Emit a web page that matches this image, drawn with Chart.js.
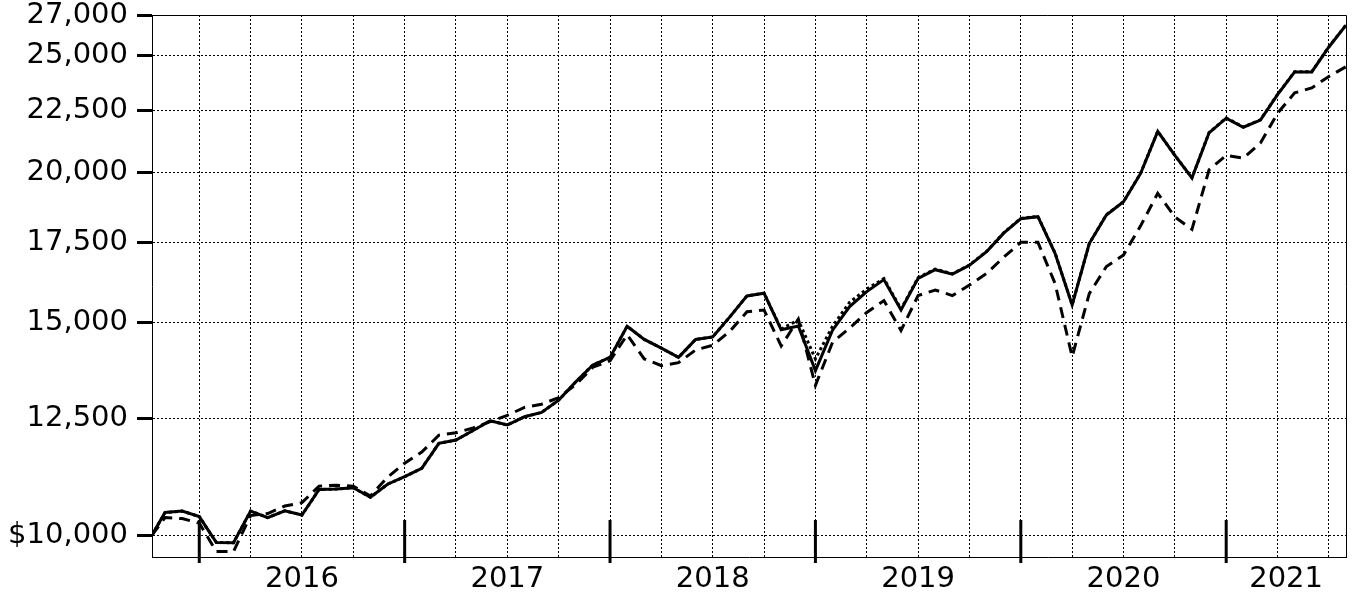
<!DOCTYPE html>
<html>
<head>
<meta charset="utf-8">
<script src="https://cdn.jsdelivr.net/npm/chart.js@4.4.1/dist/chart.umd.min.js"></script>
<style>
  html, body { margin: 0; padding: 0; background: #fff; }
  #wrap { width: 1363px; height: 610px; }
</style>
</head>
<body>
<div id="wrap"><canvas id="chart"></canvas></div>
<script>
// first entry is the inception date, the rest are month ends
const dates = ['2015-10-09',
  '2015-10', '2015-11', '2015-12',
  '2016-01', '2016-02', '2016-03', '2016-04', '2016-05', '2016-06', '2016-07', '2016-08', '2016-09', '2016-10', '2016-11', '2016-12',
  '2017-01', '2017-02', '2017-03', '2017-04', '2017-05', '2017-06', '2017-07', '2017-08', '2017-09', '2017-10', '2017-11', '2017-12',
  '2018-01', '2018-02', '2018-03', '2018-04', '2018-05', '2018-06', '2018-07', '2018-08', '2018-09', '2018-10', '2018-11', '2018-12',
  '2019-01', '2019-02', '2019-03', '2019-04', '2019-05', '2019-06', '2019-07', '2019-08', '2019-09', '2019-10', '2019-11', '2019-12',
  '2020-01', '2020-02', '2020-03', '2020-04', '2020-05', '2020-06', '2020-07', '2020-08', '2020-09', '2020-10', '2020-11', '2020-12',
  '2021-01', '2021-02', '2021-03', '2021-04', '2021-05', '2021-06', '2021-07'];

const solidLine = [10000,
  10440, 10470, 10360,
  9860, 9855, 10470, 10340, 10475, 10390, 10910, 10920, 10945, 10750, 11020, 11180,
  11360, 11915, 11990, 12210, 12440, 12340, 12535, 12640, 12940, 13400, 13840, 14040,
  14900, 14530, 14290, 14040, 14530, 14600, 15170, 15790, 15870, 14800, 14910, 13690,
  14790, 15470, 15920, 16290, 15370, 16330, 16600, 16460, 16740, 17180, 17800, 18300,
  18370, 17130, 15520, 17450, 18430, 18900, 19950, 21620, 20650, 19780, 21560, 22170,
  21790, 22090, 23190, 24220, 24220, 25400, 26480];

const dottedLine = [10000,
  10440, 10470, 10360,
  9860, 9855, 10470, 10340, 10475, 10390, 10910, 10920, 10945, 10750, 11020, 11180,
  11360, 11915, 11990, 12210, 12440, 12340, 12535, 12640, 12940, 13400, 13840, 14040,
  14900, 14530, 14290, 14040, 14530, 14600, 15170, 15790, 15870, 14820, 15080, 14000,
  14900, 15600, 16000, 16320, 15400, 16350, 16620, 16470, 16750, 17190, 17810, 18310,
  18380, 17140, 15520, 17450, 18440, 18900, 19960, 21620, 20650, 19790, 21570, 22180,
  21800, 22100, 23200, 24230, 24230, 25410, 26490];

const dashedLine = [10000,
  10340, 10320, 10230,
  9690, 9690, 10380, 10420, 10570, 10640, 10980, 11000, 10980, 10775, 11170, 11470,
  11720, 12100, 12160, 12270, 12420, 12570, 12760, 12840, 13000, 13330, 13780, 13950,
  14660, 14000, 13820, 13900, 14240, 14370, 14760, 15320, 15370, 14350, 15100, 13310,
  14450, 14850, 15300, 15650, 14780, 15800, 15970, 15800, 16120, 16480, 17000, 17490,
  17490, 16170, 14060, 15860, 16700, 17070, 18050, 19210, 18360, 17930, 20090, 20650,
  20540, 21140, 22380, 23270, 23490, 24010, 24460];

const yTickValues = [10000, 12500, 15000, 17500, 20000, 22500, 25000, 27000];
const yearLabels = [2016, 2017, 2018, 2019, 2020, 2021];

function toYear(d) {
  const p = d.split('-').map(Number);
  if (p.length === 3) {
    const day = (Date.UTC(p[0], p[1] - 1, p[2]) - Date.UTC(p[0], 0, 1)) / 86400000;
    return p[0] + day / 365;
  }
  return p[0] + p[1] / 12; // month end
}

const xs = dates.map(toYear);
const xMin = xs[0];
const xMax = xs[xs.length - 1];
const points = arr => arr.map((v, i) => ({ x: xs[i], y: v }));

const FONT = { family: 'DejaVu Sans', size: 29 };

const framePlugin = {
  id: 'frame',
  afterDraw(chart) {
    const { ctx, chartArea: a, scales } = chart;
    ctx.save();
    ctx.strokeStyle = '#000';
    ctx.lineWidth = 1;
    ctx.beginPath();
    ctx.moveTo(a.left, a.top + 0.5);
    ctx.lineTo(a.right + 0.5, a.top + 0.5);
    ctx.lineTo(a.right + 0.5, a.bottom);
    ctx.stroke();
    ctx.lineWidth = 3;
    yearLabels.forEach(y => {
      const px = scales.x.getPixelForValue(y);
      ctx.beginPath();
      ctx.moveTo(px, a.bottom - 37);
      ctx.lineTo(px, a.bottom + 6);
      ctx.stroke();
    });
    ctx.restore();
  }
};

new Chart(document.getElementById('chart'), {
  type: 'line',
  data: {
    datasets: [
      { label: 'Solid', data: points(solidLine), borderColor: '#000', borderWidth: 3, pointRadius: 0, tension: 0, fill: false },
      { label: 'Dashed', data: points(dashedLine), borderColor: '#000', borderWidth: 3, borderDash: [11, 7], pointRadius: 0, tension: 0, fill: false },
      { label: 'Dotted', data: points(dottedLine), borderColor: '#000', borderWidth: 3, borderDash: [3, 3], pointRadius: 0, tension: 0, fill: false }
    ]
  },
  options: {
    responsive: true,
    maintainAspectRatio: false,
    animation: false,
    layout: { padding: { top: 15, right: 17, left: 0, bottom: 0 } },
    plugins: { legend: { display: false }, tooltip: { enabled: false } },
    scales: {
      x: {
        type: 'linear',
        min: xMin,
        max: xMax,
        afterBuildTicks(scale) {
          const ticks = [];
          for (let q = Math.ceil(xMin * 4) / 4; q <= xMax + 1e-9; q += 0.25) {
            ticks.push({ value: q, hidden: false, yearLabel: '' });
          }
          yearLabels.forEach(y => {
            const c = (Math.max(y, xMin) + Math.min(y + 1, xMax)) / 2;
            const hit = ticks.find(t => Math.abs(t.value - c) < 1e-6);
            if (hit) hit.yearLabel = String(y);
            else ticks.push({ value: c, hidden: true, yearLabel: String(y) });
          });
          ticks.sort((a, b) => a.value - b.value);
          scale.ticks = ticks;
        },
        afterFit(scale) {
          scale.height = 53;
          scale.paddingLeft = 0;
          scale.paddingRight = 0;
        },
        ticks: {
          autoSkip: false,
          maxRotation: 0,
          padding: 5,
          color: '#000',
          font: FONT,
          callback: (value, index, ticks) => ticks[index].yearLabel || ''
        },
        grid: {
          color: ctx => (ctx.tick && ctx.tick.hidden) ? 'rgba(0,0,0,0)' : '#000',
          lineWidth: 1,
          drawTicks: false
        },
        border: { display: true, color: '#000', width: 1, dash: [2, 2] }
      },
      y: {
        type: 'logarithmic',
        min: 9590,
        max: 27000,
        afterBuildTicks(scale) {
          scale.ticks = yTickValues.map(v => ({ value: v }));
        },
        afterFit(scale) {
          scale.width = 152;
          scale.paddingTop = 0;
          scale.paddingBottom = 0;
        },
        ticks: {
          padding: 9,
          color: '#000',
          font: { family: 'DejaVu Sans', size: 29, lineHeight: 1 },
          callback: v => (v === 10000 ? '$' : '') + Number(v).toLocaleString('en-US')
        },
        grid: {
          color: '#000',
          lineWidth: 1,
          drawTicks: true,
          tickLength: 15,
          tickWidth: 3,
          tickColor: '#000',
          tickBorderDash: []
        },
        border: { display: true, color: '#000', width: 1, dash: [2, 2] }
      }
    }
  },
  plugins: [framePlugin]
});
</script>
</body>
</html>
